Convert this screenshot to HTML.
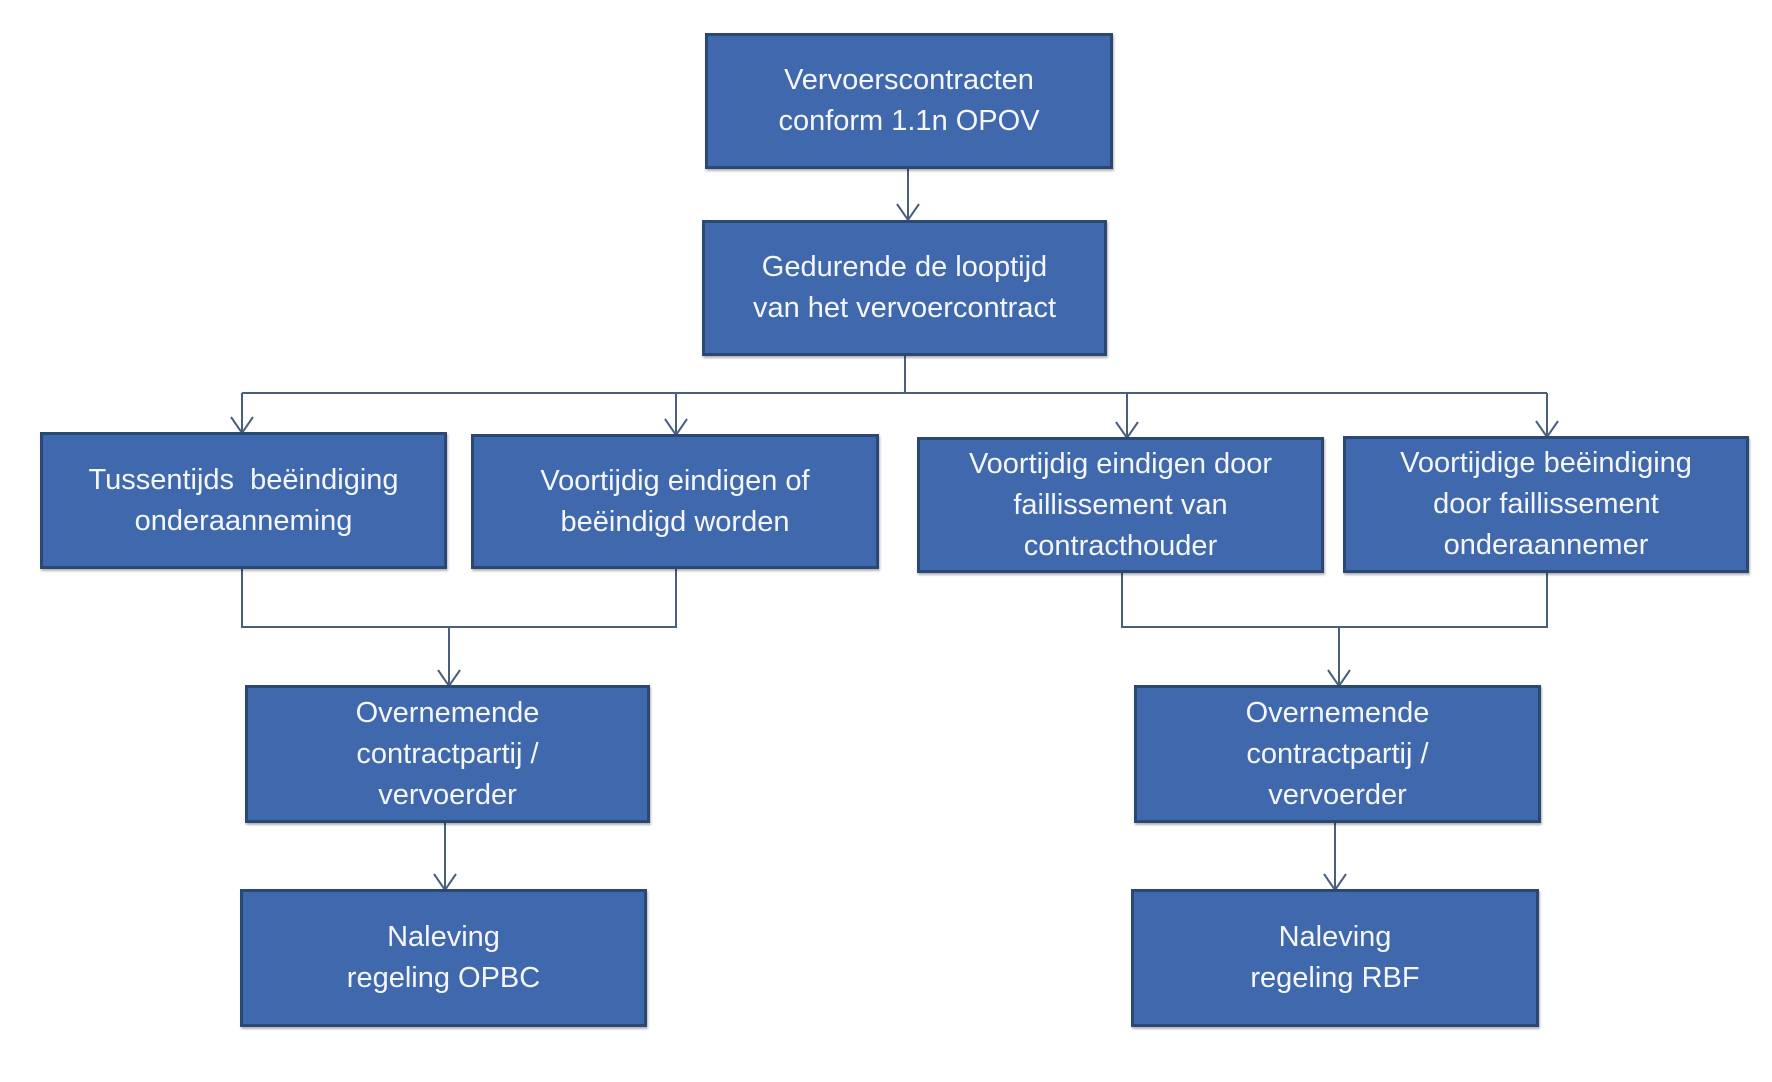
<!DOCTYPE html>
<html><head><style>
body{margin:0;width:1772px;height:1082px;background:#fff;position:relative;overflow:hidden;font-family:"Liberation Sans",sans-serif}
.b{position:absolute;box-sizing:border-box;background:#4068ad;border:3px solid #2b4773;color:#f4f6fa;font-size:29px;line-height:41px;display:flex;align-items:center;justify-content:center;text-align:center;box-shadow:1px 2px 2px rgba(0,0,0,.3)}
svg{position:absolute;left:0;top:0}
</style></head><body>
<svg width="1772" height="1082" fill="none" stroke="#4a5f80" stroke-width="2">
<path d="M908 168V220M905 355V393M242 393H1547M242 393V433M676 393V435M1127 393V438M1547 393V437"/>
<path d="M242 568V627H676V568M449 627V686M1122 572V627H1547V572M1339 627V686M445 822V890M1335 822V890"/>
<g stroke-width="2">
<path d="M897 204L908 220L919 204M231 417L242 433L253 417M665 419L676 435L687 419M1116 422L1127 438L1138 422M1536 421L1547 437L1558 421M438 670L449 686L460 670M1328 670L1339 686L1350 670M434 874L445 890L456 874M1324 874L1335 890L1346 874"/>
</g>
</svg>
<div class="b" style="left:705px;top:33px;width:408px;height:136px">Vervoerscontracten<br>conform 1.1n OPOV</div>
<div class="b" style="left:702px;top:220px;width:405px;height:136px">Gedurende de looptijd<br>van het vervoercontract</div>
<div class="b" style="left:40px;top:432px;width:407px;height:137px">Tussentijds&nbsp; beëindiging<br>onderaanneming</div>
<div class="b" style="left:471px;top:434px;width:408px;height:135px">Voortijdig eindigen of<br>beëindigd worden</div>
<div class="b" style="left:917px;top:437px;width:407px;height:136px">Voortijdig eindigen door<br>faillissement van<br>contracthouder</div>
<div class="b" style="left:1343px;top:436px;width:406px;height:137px">Voortijdige beëindiging<br>door faillissement<br>onderaannemer</div>
<div class="b" style="left:245px;top:685px;width:405px;height:138px">Overnemende<br>contractpartij /<br>vervoerder</div>
<div class="b" style="left:1134px;top:685px;width:407px;height:138px">Overnemende<br>contractpartij /<br>vervoerder</div>
<div class="b" style="left:240px;top:889px;width:407px;height:138px">Naleving<br>regeling OPBC</div>
<div class="b" style="left:1131px;top:889px;width:408px;height:138px">Naleving<br>regeling RBF</div>
</body></html>
